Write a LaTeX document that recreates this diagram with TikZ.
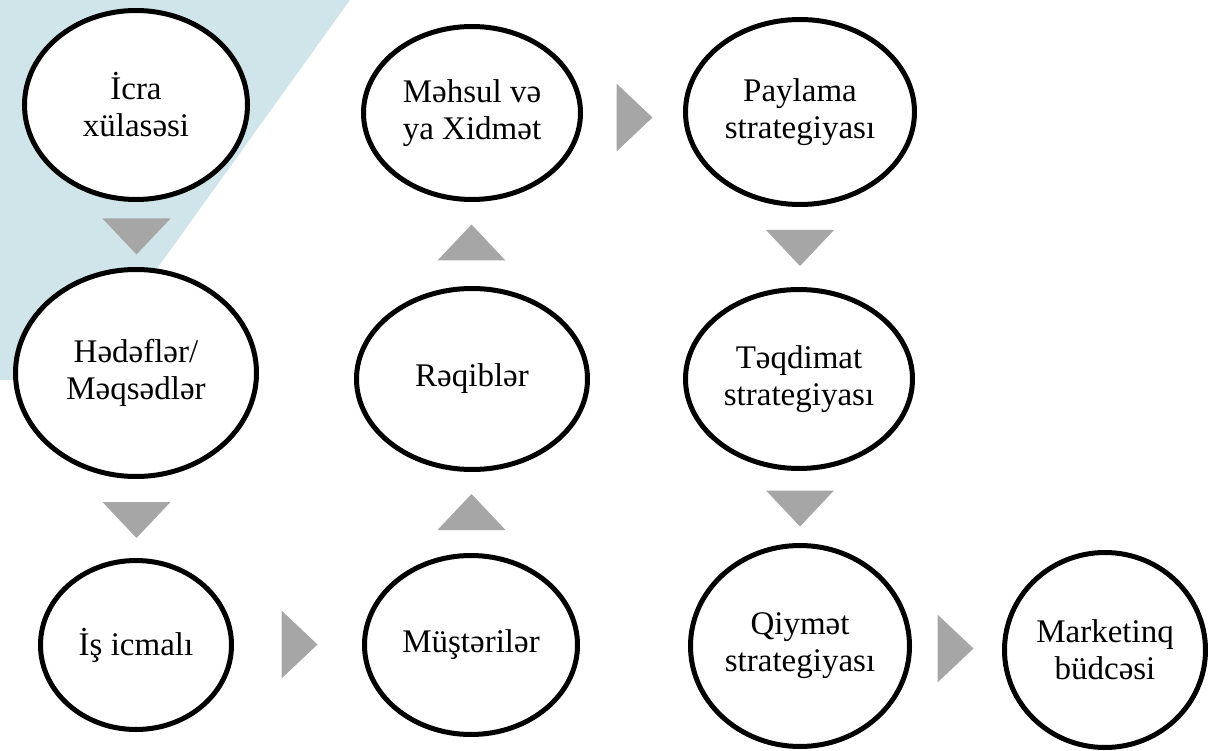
\documentclass[tikz,border=0pt]{standalone}
\usepackage{fontspec}
\setmainfont{Liberation Serif}
\usetikzlibrary{shapes.geometric}
\definecolor{bgblue}{RGB}{207,229,234}
\definecolor{chevron}{RGB}{166,166,166}
\begin{document}
\begin{tikzpicture}[x=1pt,y=-1pt,
  stage/.style={ellipse, draw=black, fill=white, line width=5pt, align=center,
    inner sep=0pt, font=\fontsize{33}{37}\selectfont},
  tridown/.pic={\fill[chevron] (-34,-18) -- (34,-18) -- (0,18) -- cycle;},
  triup/.pic={\fill[chevron] (-34,18) -- (34,18) -- (0,-18) -- cycle;},
  triright/.pic={\fill[chevron] (-18,-34) -- (-18,34) -- (18,0) -- cycle;}]
\useasboundingbox (0,0) rectangle (1208,751);

% pale band in the upper left corner
\fill[bgblue] (0,0) -- (350,0) -- (77,380) -- (0,380) -- cycle;

% first column
\node[stage, minimum width=223pt, minimum height=189pt] (icra)  at (136,105) {İcra\\xülasəsi};
\node[stage, minimum width=241pt, minimum height=207pt] (hedef) at (136,373) {Hədəflər/\\Məqsədlər};
\node[stage, minimum width=191pt, minimum height=169pt] (icmal) at (136,645) {İş icmalı};

% second column
\node[stage, minimum width=213pt, minimum height=179pt] (must)   at (471,645) {Müştərilər};
\node[stage, minimum width=231pt, minimum height=181pt] (reqib)  at (472,379) {Rəqiblər};
\node[stage, minimum width=217pt, minimum height=173pt] (mehsul) at (472,113) {Məhsul və\\ya Xidmət};

% third column
\node[stage, minimum width=229pt, minimum height=185pt] (payl)  at (800,112) {Paylama\\strategiyası};
\node[stage, minimum width=227pt, minimum height=179pt] (teqd)  at (799,379) {Təqdimat\\strategiyası};
\node[stage, minimum width=219pt, minimum height=201pt] (qiym)  at (800,646) {Qiymət\\strategiyası};

% last step
\node[stage, minimum width=201pt, minimum height=195pt] (budce) at (1105,650) {Marketinq\\büdcəsi};

% direction markers between the steps
\pic (d1) at (136.5,236.5) {tridown};
\pic (d2) at (136.5,520)   {tridown};
\pic (r1) at (299.5,644.5) {triright};
\pic (u1) at (471.5,512)   {triup};
\pic (u2) at (471.5,242.5) {triup};
\pic (r2) at (634.5,117.5) {triright};
\pic (d3) at (800,248)     {tridown};
\pic (d4) at (800,508.5)   {tridown};
\pic (r3) at (955.5,648.5) {triright};
\end{tikzpicture}
\end{document}
